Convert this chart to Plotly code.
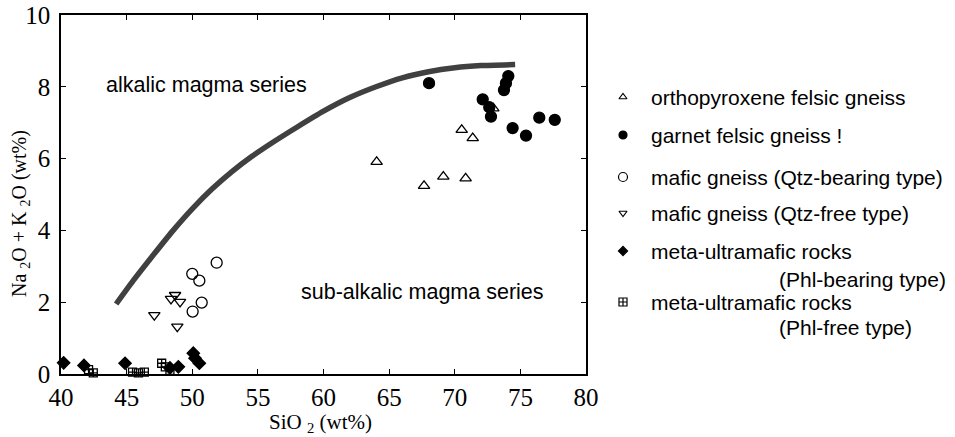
import plotly.graph_objects as go

# Alkalic / sub-alkalic dividing curve (SiO2, total alkalis)
boundary_sio2 = [44.2, 45.5, 47.0, 48.5, 50.0, 51.5, 53.0, 54.5, 56.0, 58.0, 60.0,
                 62.0, 64.0, 66.0, 68.0, 70.0, 72.0, 74.6]
boundary_alk = [1.95, 2.60, 3.30, 3.98, 4.60, 5.15, 5.63, 6.05, 6.42, 6.88, 7.32,
                7.70, 8.00, 8.25, 8.42, 8.53, 8.59, 8.62]

# Sample groups: SiO2 (wt%) and Na2O + K2O (wt%)
opx_sio2 = [64.05, 67.66, 69.13, 70.83, 70.53, 71.37, 72.94]
opx_alk = [5.91, 5.24, 5.50, 5.45, 6.80, 6.57, 7.40]

grt_sio2 = [68.04, 72.13, 72.63, 72.76, 73.75, 73.90, 74.08, 74.41, 75.43, 76.44, 77.62]
grt_alk = [8.10, 7.65, 7.43, 7.17, 7.91, 8.10, 8.30, 6.85, 6.64, 7.14, 7.08]

mafic_qtz_sio2 = [50.00, 50.54, 51.86, 50.72, 50.03]
mafic_qtz_alk = [2.79, 2.60, 3.10, 1.99, 1.74]

mafic_free_sio2 = [47.11, 48.38, 48.69, 49.07, 48.86]
mafic_free_alk = [1.64, 2.09, 2.20, 2.01, 1.32]

um_phl_sio2 = [40.20, 41.75, 44.88, 48.30, 48.94, 50.08, 50.21, 50.54]
um_phl_alk = [0.31, 0.24, 0.30, 0.17, 0.20, 0.58, 0.44, 0.30]

um_free_sio2 = [42.10, 42.46, 45.45, 45.90, 46.35, 47.67, 47.95, 48.30]
um_free_alk = [0.12, 0.03, 0.05, 0.03, 0.05, 0.30, 0.20, 0.10]

x_ticks = [40, 45, 50, 55, 60, 65, 70, 75, 80]
y_ticks = [0, 2, 4, 6, 8, 10]

legend_labels = [
    "orthopyroxene felsic gneiss",
    "garnet felsic gneiss !",
    "mafic gneiss (Qtz-bearing type)",
    "mafic gneiss (Qtz-free type)",
    "meta-ultramafic rocks",
    "meta-ultramafic rocks",
]
legend_sublabels = ["", "", "", "", "(Phl-bearing type)", "(Phl-free type)"]

W, H = 955, 437
PX_L, PX_R, PX_T, PX_B = 61, 586, 15, 374

series = [
    (opx_sio2, opx_alk, "triangle-up-open", 10),
    (grt_sio2, grt_alk, "circle", 11),
    (mafic_qtz_sio2, mafic_qtz_alk, "circle-open", 11),
    (mafic_free_sio2, mafic_free_alk, "triangle-down-open", 10),
    (um_phl_sio2, um_phl_alk, "diamond", 9.5),
    (um_free_sio2, um_free_alk, "square-cross-open", 8),
]
legend_sizes = [7, 8, 9, 7, 7, 8]

serif = "Liberation Serif, Times New Roman, serif"
sans = "Liberation Sans, Arial, sans-serif"

fig = go.Figure()

# dividing curve
fig.add_trace(go.Scatter(
    x=boundary_sio2, y=boundary_alk, mode="lines",
    line=dict(color="#404040", width=5.5, shape="spline", smoothing=0.6),
    hoverinfo="skip", showlegend=False, cliponaxis=False,
))

for (xs, ys, sym, sz), name in zip(series, legend_labels):
    fig.add_trace(go.Scatter(
        x=xs, y=ys, mode="markers", name=name,
        marker=dict(symbol=sym, size=sz, color="black",
                    line=dict(color="black", width=1.3)),
        showlegend=False, cliponaxis=False,
    ))

# hand-placed legend on a hidden pixel-scaled axis pair
row_y = [97, 135, 177, 213, 251, 302]
sub_gap = [0, 0, 0, 0, 28, 25]
sym_x = 623
text_x = 649
sub_x = 777
for i, ((_, _, sym, _), lab, sub) in enumerate(zip(series, legend_labels, legend_sublabels)):
    fig.add_trace(go.Scatter(
        x=[sym_x], y=[row_y[i]], mode="markers", xaxis="x2", yaxis="y2",
        marker=dict(symbol=sym, size=legend_sizes[i], color="black",
                    line=dict(color="black", width=1.2)),
        showlegend=False, hoverinfo="skip",
    ))
    fig.add_annotation(x=text_x, y=row_y[i], xref="x2", yref="y2", text=lab,
                       showarrow=False, xanchor="left", yanchor="middle",
                       font=dict(family=sans, size=21, color="black"))
    if sub:
        fig.add_annotation(x=sub_x, y=row_y[i] + sub_gap[i], xref="x2", yref="y2", text=sub,
                           showarrow=False, xanchor="left", yanchor="middle",
                           font=dict(family=sans, size=21, color="black"))

# region labels
fig.add_annotation(x=51.05, y=8.05, text="alkalic magma series", showarrow=False,
                   xanchor="center", yanchor="middle",
                   font=dict(family=sans, size=21.5, color="black"))
fig.add_annotation(x=67.54, y=2.28, text="sub-alkalic magma series", showarrow=False,
                   xanchor="center", yanchor="middle",
                   font=dict(family=sans, size=21.5, color="black"))

# axis titles
fig.add_annotation(x=320 / W, y=1 - 423 / H, xref="paper", yref="paper",
                   text="SiO <sub>2</sub> (wt%)", showarrow=False,
                   xanchor="center", yanchor="middle",
                   font=dict(family=serif, size=21, color="black"))
fig.add_annotation(x=20 / W, y=1 - 214 / H, xref="paper", yref="paper",
                   text="Na <sub>2</sub>O + K <sub>2</sub>O (wt%)", showarrow=False,
                   textangle=-90, xanchor="center", yanchor="middle",
                   font=dict(family=serif, size=20, color="black"))

fig.update_layout(
    width=W, height=H,
    margin=dict(l=0, r=0, t=0, b=0, pad=0, autoexpand=False),
    paper_bgcolor="white", plot_bgcolor="white",
    showlegend=False,
    xaxis=dict(
        domain=[PX_L / W, PX_R / W], range=[40, 80], automargin=False,
        tickvals=x_ticks, ticktext=[str(v) for v in x_ticks],
        ticks="inside", ticklen=5, tickwidth=1, tickcolor="black",
        showline=True, linecolor="black", linewidth=1.5, mirror="ticks",
        showgrid=False, zeroline=False, ticklabelstandoff=0,
        tickfont=dict(family=serif, size=25, color="black"),
    ),
    yaxis=dict(
        domain=[1 - PX_B / H, 1 - PX_T / H], range=[0, 10], automargin=False,
        tickvals=y_ticks, ticktext=[str(v) for v in y_ticks],
        ticks="inside", ticklen=5, tickwidth=1, tickcolor="black",
        showline=True, linecolor="black", linewidth=1.5, mirror="ticks",
        showgrid=False, zeroline=False, ticklabelstandoff=4,
        tickfont=dict(family=serif, size=25, color="black"),
    ),
    xaxis2=dict(domain=[600 / W, 1.0], range=[600, 955], visible=False,
                anchor="y2", automargin=False),
    yaxis2=dict(domain=[0, 1], range=[437, 0], visible=False,
                anchor="x2", automargin=False),
)

fig.write_html("out.html")
